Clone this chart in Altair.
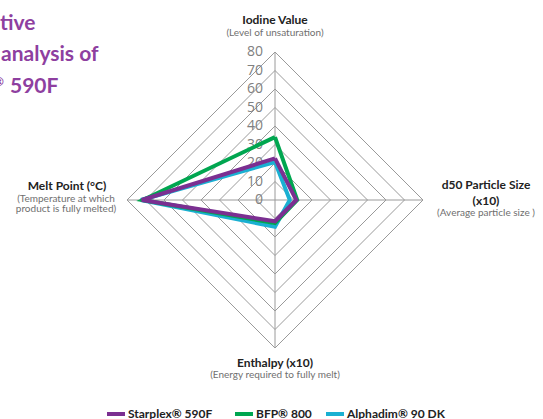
import altair as alt
import pandas as pd

# ---- data ----
series = ["Starplex® 590F", "BFP® 800", "Alphadim® 90 DK"]
colors = ["#7B2F91", "#00A650", "#1AB0D2"]
iodine = [22.5, 34, 20.5]      # top axis
d50 = [11.5, 12, 8]            # right axis
enthalpy = [11.5, 12.5, 14.5]  # bottom axis
melt = [72, 71.5, 72.5]        # left axis
ticks = [0, 10, 20, 30, 40, 50, 60, 70, 80]

W, H = 543, 419
CX, CY = 275, 200
K = 148 / 80.0
xdom = [-CX / K, (W - CX) / K]
ydom = [-(H - CY) / K, CY / K]
xs = alt.Scale(domain=xdom, nice=False, zero=False)
ys = alt.Scale(domain=ydom, nice=False, zero=False)
dirs = [(0, 1), (1, 0), (0, -1), (-1, 0)]

# grid diamonds
grid_rows = []
for r in ticks[1:]:
    for i, (dx, dy) in enumerate(dirs + [dirs[0]]):
        grid_rows.append({"ring": r, "i": i, "x": dx * r, "y": dy * r})
grid = alt.Chart(pd.DataFrame(grid_rows)).mark_line(color="#9a9a9a", strokeWidth=1).encode(
    x=alt.X("x:Q", scale=xs, axis=None),
    y=alt.Y("y:Q", scale=ys, axis=None),
    detail="ring:N",
    order="i:Q",
)

spoke_rows = [
    {"s": "v", "x": 0, "y": 80, "x2": 0, "y2": -80},
    {"s": "h", "x": -80, "y": 0, "x2": 80, "y2": 0},
]
spokes = alt.Chart(pd.DataFrame(spoke_rows)).mark_rule(color="#9a9a9a", strokeWidth=1).encode(
    x=alt.X("x:Q", scale=xs, axis=None), y=alt.Y("y:Q", scale=ys, axis=None),
    x2="x2:Q", y2="y2:Q",
)

tick_df = pd.DataFrame({"x": [0] * len(ticks), "y": ticks, "t": [str(t) for t in ticks]})
tick_text = alt.Chart(tick_df).mark_text(
    align="right", baseline="middle", dx=-12, fontSize=14, color="#808080", font="Open Sans"
).encode(x=alt.X("x:Q", scale=xs, axis=None), y=alt.Y("y:Q", scale=ys, axis=None), text="t:N")

layers = [grid, spokes, tick_text]

for k in [2, 1, 0]:
    vals = [iodine[k], d50[k], enthalpy[k], melt[k]]
    rows = []
    for i, ((dx, dy), v) in enumerate(zip(dirs + [dirs[0]], vals + [vals[0]])):
        rows.append({"i": i, "x": dx * v, "y": dy * v, "s": series[k]})
    layers.append(
        alt.Chart(pd.DataFrame(rows)).mark_line(color=colors[k], strokeWidth=4, strokeJoin="miter").encode(
            x=alt.X("x:Q", scale=xs, axis=None), y=alt.Y("y:Q", scale=ys, axis=None), order="i:Q"
        )
    )


def label(text, x, y, size=12, bold=False, color="#222222", align="center", font="Lato"):
    return alt.Chart(pd.DataFrame({"t": [text]})).mark_text(
        align=align, baseline="middle", fontSize=size,
        fontWeight="bold" if bold else "normal", color=color, font=font,
    ).encode(x=alt.value(x), y=alt.value(y), text="t:N")


sub = "#6f6f6f"
layers += [
    label("Iodine Value", 275, 20, 12, True),
    label("(Level of unsaturation)", 275, 33, 10, False, sub),
    label("Melt Point (°C)", 67, 186, 12, True),
    label("(Temperature at which", 66, 199, 10, False, sub),
    label("product is fully melted)", 66, 209, 10, False, sub),
    label("d50 Particle Size", 486, 185, 12, True),
    label("(x10)", 486, 201, 12, True),
    label("(Average particle size )", 486, 213, 10, False, sub),
    label("Enthalpy (x10)", 275, 363, 12, True),
    label("(Energy required to fully melt)", 275, 375, 10, False, sub),
]

title_c = "#8E3FA0"
layers += [
    label("tive", 0, 24, 21, True, title_c, "left"),
    label("analysis of", 1, 55, 21, True, title_c, "left"),
    label("®", -6, 82, 12, True, title_c, "left"),
    label("590F", 10, 87, 21, True, title_c, "left"),
]

# legend
leg_x = [107, 235, 326]
for k in range(3):
    layers.append(
        alt.Chart(pd.DataFrame({"a": [0]})).mark_rule(color=colors[k], strokeWidth=4).encode(
            x=alt.value(leg_x[k]), x2=alt.value(leg_x[k] + 18), y=alt.value(414)
        )
    )
    layers.append(label(series[k], leg_x[k] + 21, 414, 12, True, "#222222", "left"))

chart = alt.layer(*layers).properties(
    width=W, height=H, padding=0, autosize=alt.AutoSizeParams(type="none"), background="white"
).configure_view(stroke=None)

chart.save("out.html", embed_options={"renderer": "svg", "actions": False})
